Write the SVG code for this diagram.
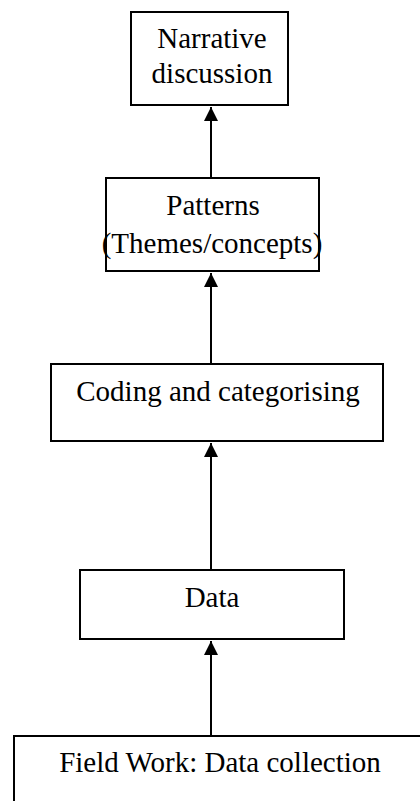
<svg xmlns="http://www.w3.org/2000/svg" width="420" height="801" viewBox="0 0 420 801">
<style>
.box{fill:#fff;stroke:#000;stroke-width:2}
.lbl{font-family:"Liberation Serif","Times New Roman",serif;font-size:29px;fill:#000;text-anchor:middle}
.conn{stroke:#000;stroke-width:2;fill:none;marker-end:url(#ah)}
</style>
<defs>
<marker id="ah" markerUnits="userSpaceOnUse" markerWidth="16" markerHeight="16" refX="14" refY="7" orient="auto">
<path d="M0,0 L14,7 L0,14 Z" fill="#000"/>
</marker>
</defs>
<rect width="420" height="801" fill="#fff"/>
<g id="connectors">
<line class="conn" x1="211" y1="178" x2="211" y2="107"/>
<line class="conn" x1="211" y1="364" x2="211" y2="273"/>
<line class="conn" x1="211" y1="570" x2="211" y2="443"/>
<line class="conn" x1="211" y1="736" x2="211" y2="641"/>
</g>
<g id="narrative">
<rect class="box" x="131" y="12" width="157" height="93"/>
<text class="lbl" x="212" y="48">Narrative</text>
<text class="lbl" x="212" y="83">discussion</text>
</g>
<g id="patterns">
<rect class="box" x="106" y="178" width="213" height="93"/>
<text class="lbl" x="213" y="215">Patterns</text>
<text class="lbl" x="212" y="253">(Themes/concepts)</text>
</g>
<g id="coding">
<rect class="box" x="51" y="364" width="332" height="77"/>
<text class="lbl" x="218" y="401">Coding and categorising</text>
</g>
<g id="data">
<rect class="box" x="80" y="570" width="264" height="69"/>
<text class="lbl" x="212" y="607">Data</text>
</g>
<g id="fieldwork">
<rect class="box" x="14" y="736" width="420" height="80"/>
<text class="lbl" x="220" y="772">Field Work: Data collection</text>
</g>
</svg>
